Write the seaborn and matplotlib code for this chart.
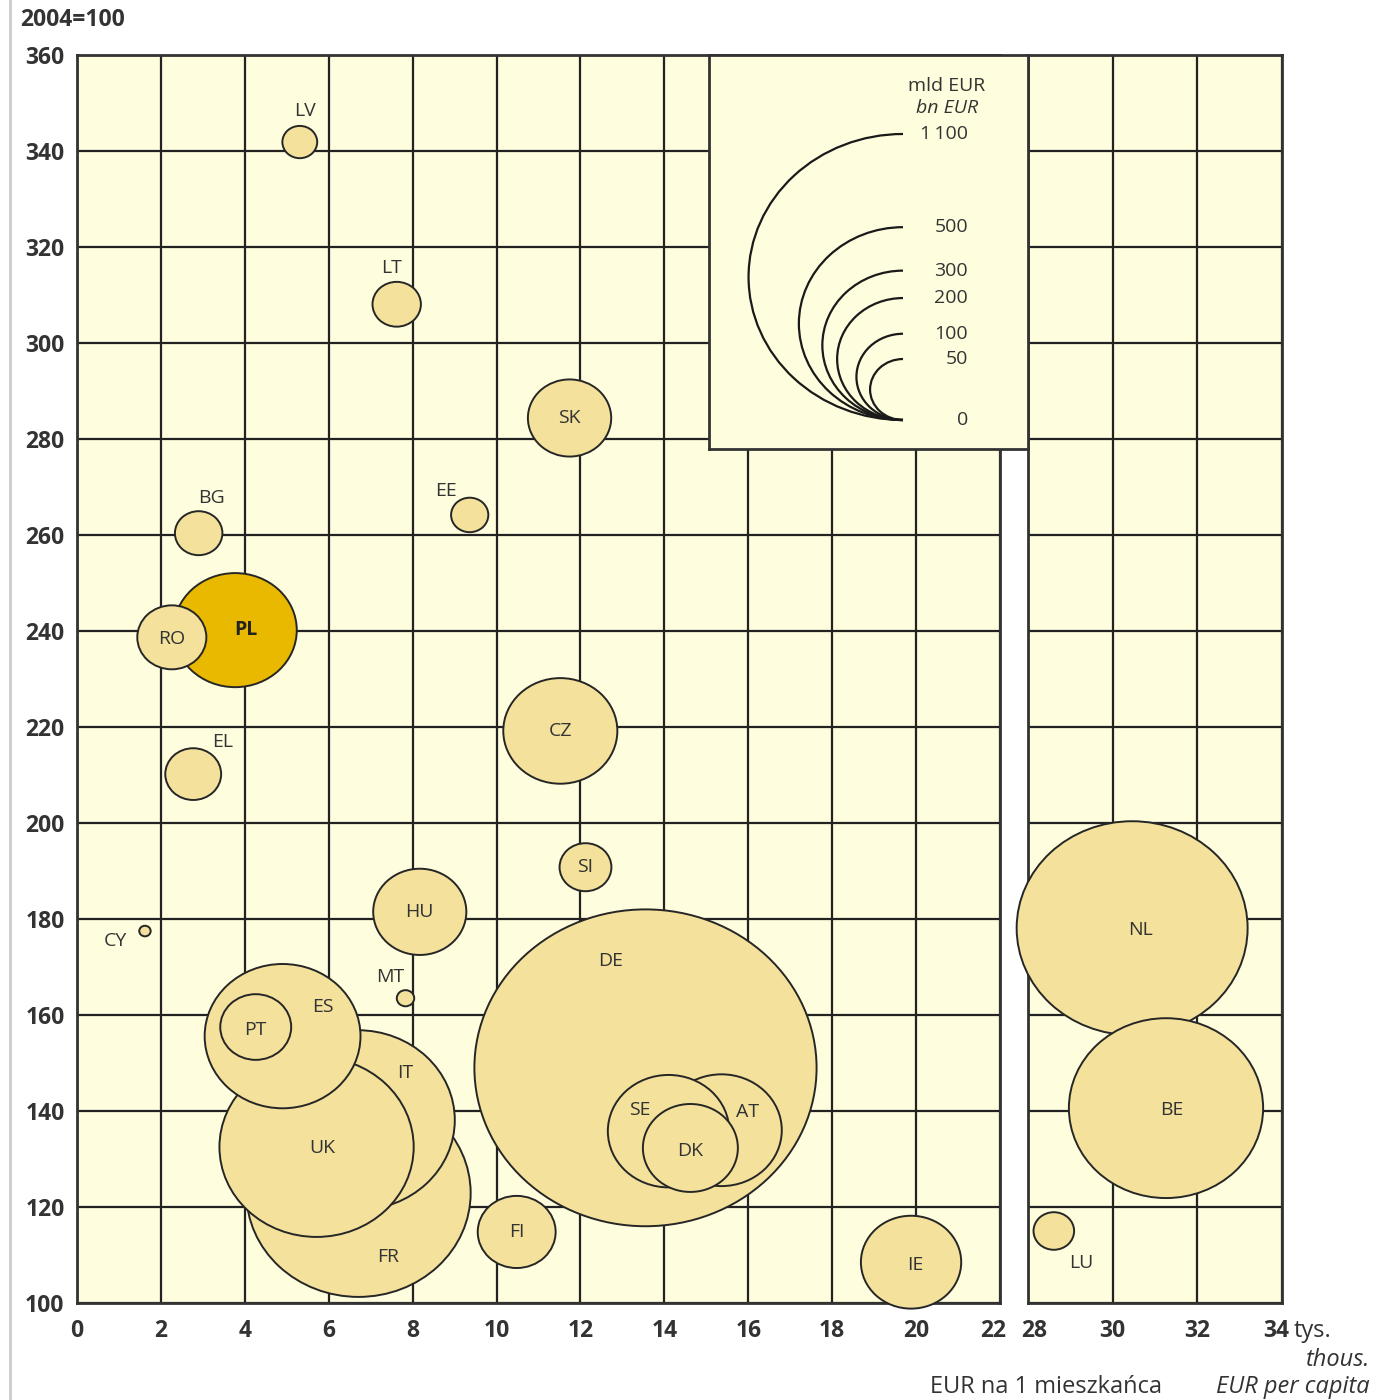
import numpy as np
import pandas as pd
import matplotlib
matplotlib.use("Agg")
import matplotlib.pyplot as plt
import matplotlib.transforms as mtransforms
import seaborn as sns
from matplotlib.path import Path
from matplotlib.patches import Arc
from matplotlib.lines import Line2D

# data (draw order: big first, so smaller outlines stay on top)
countries = ["DE", "NL", "FR", "IT", "UK", "BE", "ES", "PL", "AT", "SE", "CZ", "IE", "DK",
             "HU", "SK", "FI", "PT", "RO", "EL", "SI", "LT", "BG", "LU", "EE", "LV", "MT", "CY"]
gdp_per_capita = [13.55, 30.46, 6.71, 6.69, 5.71, 31.26, 4.90, 3.77, 15.36, 14.10, 11.52, 19.88, 14.62,
                  8.17, 11.74, 10.48, 4.26, 2.26, 2.77, 12.12, 7.62, 2.90, 28.61, 9.36, 5.31, 7.83, 1.62]
index_2004 = [148.9, 178.0, 122.8, 138.0, 132.4, 140.5, 155.5, 240.1, 135.9, 135.7, 219.1, 108.4, 132.2,
              181.4, 284.3, 114.7, 157.4, 238.6, 210.1, 190.7, 308.0, 260.3, 114.9, 264.1, 341.8, 163.4, 177.4]
bn_eur = [1350, 615, 580, 435, 435, 435, 280, 175, 168, 170, 150, 116, 104,
          100, 80, 70, 58, 55, 36, 31, 27, 26, 19, 16, 14, 3.5, 1.5]

legend_values = [1100, 500, 300, 200, 100, 50]
x_ticks_left = list(range(0, 23, 2))
x_ticks_right = [28, 30, 32, 34]
y_ticks = list(range(100, 361, 20))

W, H, DPI = 1383, 1400, 100
ASPECT = 1.08                      # bubbles are slightly wider than tall
S_REF = (286 * ASPECT * 72 / DPI) ** 2   # marker area (pt^2) for 1100 bn EUR
NORM_MAX = 1500

BG = "#FEFDDD"
FILL = "#F3E19C"
FILL_PL = "#E9B900"
INK = "#333333"

df = pd.DataFrame({"country": countries, "x": gdp_per_capita, "y": index_2004, "size": bn_eur})
df["group"] = np.where(df["country"] == "PL", "PL", "other")

sns.set_theme(style="white")
plt.rcParams["font.family"] = ["Open Sans", "DejaVu Sans"]

fig = plt.figure(figsize=(W / DPI, H / DPI), dpi=DPI)
fig.patch.set_facecolor("white")


def px_box(l, t, r, b):
    return [l / W, 1 - b / H, (r - l) / W, (b - t) / H]


ax1 = fig.add_axes(px_box(77, 54.7, 1000, 1302.5))
ax2 = fig.add_axes(px_box(1028, 54.7, 1282, 1302.5))

circ = Path.unit_circle()
ellipse = Path(circ.vertices * np.array([ASPECT, 1.0]), circ.codes)

label_offsets = {
    "LV": (4, 22), "LT": (-4, 26), "BG": (9, 25), "EE": (-17, 17), "PL": (8, 0),
    "RO": (0, -1), "EL": (21, 23), "CY": (-21, -7), "MT": (-11, 15), "ES": (29, 21),
    "PT": (0, -2), "IT": (34, 34), "UK": (4, -1), "FR": (21, -46), "DE": (-25, 77),
    "SE": (-21, 15), "AT": (19, 13), "DK": (0, -2), "IE": (3, -2), "NL": (6, -1),
    "BE": (4, -1), "LU": (20, -23),
}

for ax, (lo, hi), ticks in [(ax1, (0, 22), x_ticks_left), (ax2, (28, 34), x_ticks_right)]:
    sub = df[(df["x"] >= lo) & (df["x"] <= hi)]
    ax.set_facecolor(BG)
    sns.scatterplot(data=sub, x="x", y="y", size="size",
                    sizes=(0, S_REF * NORM_MAX / 1100), size_norm=(0, NORM_MAX),
                    hue="group", palette={"PL": FILL_PL, "other": FILL}, marker=ellipse,
                    edgecolor="#262626", linewidth=1.4, legend=False, ax=ax, zorder=3, clip_on=False)
    for _, r in sub.iterrows():
        ax.annotate(r["country"], (r["x"], r["y"]), xytext=label_offsets.get(r["country"], (0, 0)),
                    textcoords="offset points", ha="center", va="center", fontsize=14,
                    color="#222222" if r["country"] == "PL" else INK,
                    fontweight="bold" if r["country"] == "PL" else "normal", zorder=4)
    ax.set_xlim(lo, hi)
    ax.set_ylim(100, 360)
    ax.set_xticks(ticks)
    ax.set_yticks(y_ticks)
    ax.set_axisbelow(True)
    ax.grid(True, color="#222222", lw=1.6)
    ax.set_xlabel("")
    ax.set_ylabel("")
    for s in ax.spines.values():
        s.set_color("#333333")
        s.set_linewidth(2)
    ax.tick_params(axis="x", length=0, labelsize=16.5, labelcolor=INK, pad=12)
    ax.tick_params(axis="y", length=0, labelsize=16.5, labelcolor=INK, pad=9)
    for t in ax.get_xticklabels() + ax.get_yticklabels():
        t.set_fontweight("bold")

ax2.tick_params(labelleft=False)


def nudge(label, dx_px):
    label.set_transform(label.get_transform() + mtransforms.Affine2D().translate(dx_px, 0))


nudge(ax1.get_xticklabels()[-1], -7)
nudge(ax2.get_xticklabels()[0], 6)
nudge(ax2.get_xticklabels()[-1], -6)

# size legend
lax = fig.add_axes(px_box(709, 54.7, 1028, 449), zorder=5)
lax.set_facecolor(BG)
lax.set_xlim(709, 1028)
lax.set_ylim(H - 449, H - 54.7)
lax.set_xticks([])
lax.set_yticks([])
for s in lax.spines.values():
    s.set_color("#333333")
    s.set_linewidth(2)
x0, y0 = 903, H - 420
for v in legend_values:
    w = np.sqrt(v / 1100 * S_REF) * DPI / 72
    h = w / ASPECT
    lax.add_patch(Arc((x0, y0 + h / 2), w, h, theta1=90, theta2=270, color="#1a1a1a", lw=1.6))
    lax.text(968, y0 + h, f"{v:,}".replace(",", "\u2009"), ha="right", va="center",
             fontsize=14, color=INK)
lax.text(968, y0, "0", ha="right", va="center", fontsize=14, color=INK)
lax.text(947, H - 86, "mld EUR", ha="center", va="center", fontsize=14, color=INK)
lax.text(947, H - 108, "bn EUR", ha="center", va="center", fontsize=14, color=INK, style="italic")

# texts around the axes
fig.text(20 / W, 1 - 20 / H, "2004=100", ha="left", va="center", fontsize=16.5, color=INK,
         fontweight="bold")
fig.text(1294 / W, 1 - 1331 / H, "tys.", ha="left", va="center", fontsize=17, color=INK)
fig.text(1370 / W, 1 - 1360 / H, "thous.", ha="right", va="center", fontsize=17, color=INK,
         style="italic")
fig.text(930 / W, 1 - 1387 / H, "EUR na 1 mieszkańca", ha="left", va="center", fontsize=17,
         color=INK)
fig.text(1370 / W, 1 - 1387 / H, "EUR per capita", ha="right", va="center", fontsize=17,
         color=INK, style="italic")

fig.add_artist(Line2D([10 / W, 10 / W], [0, 1], color="#cccccc", lw=2))

fig.savefig("out.png", dpi=DPI, facecolor="white")
